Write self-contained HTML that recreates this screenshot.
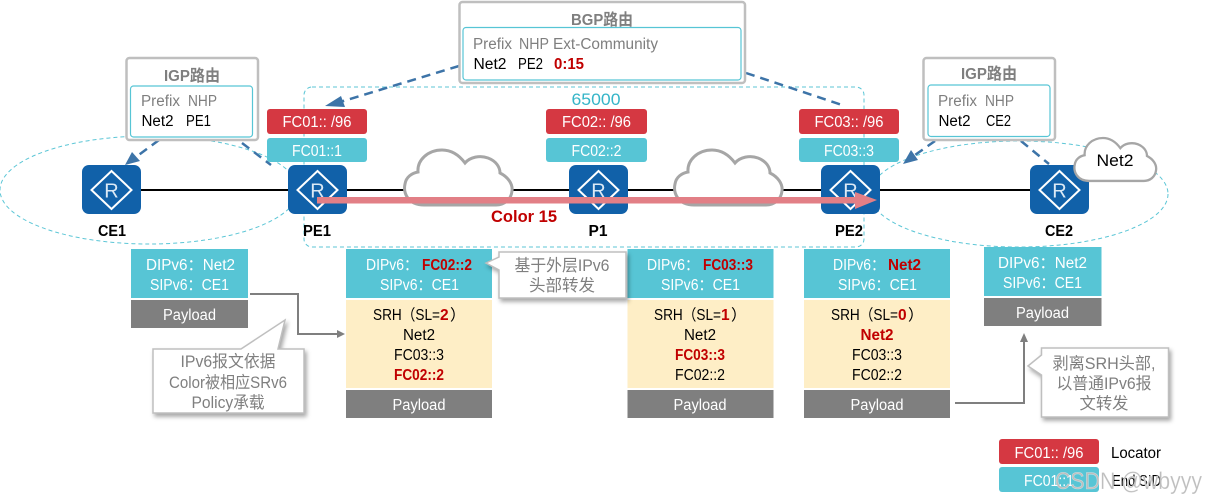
<!DOCTYPE html>
<html><head><meta charset="utf-8">
<style>
html,body{margin:0;padding:0;background:#fff;width:1206px;height:501px;overflow:hidden}
svg{display:block}
text{font-family:"Liberation Sans","Noto Sans CJK SC",sans-serif;font-size:15.5px}
.m{text-anchor:middle}
.w{fill:#fff}
.k{fill:#000}
.g{fill:#7f7f7f}
.r{fill:#c00000;font-weight:bold}
.t{fill:#7f7f7f;font-weight:bold;font-size:16px}
.n{font-weight:bold;fill:#000;font-size:16px}
.box{fill:#fff;stroke:#bfbfbf;stroke-width:2.5}
.inner{fill:#fff;stroke:#57c5d5;stroke-width:1.2}
.dash{stroke:#3d74a8;stroke-width:2.5;stroke-dasharray:9 6;fill:none}
.cy{fill:none;stroke:#5cc6d6;stroke-width:1;stroke-dasharray:4 3}
.teal{fill:#57c5d5}
.red{fill:#d53842}
.gray{fill:#7f7f7f}
.cream{fill:#feeec6}
.cloud{fill:#fff;stroke:#a6a6a6;stroke-width:3}
.call{fill:#fff;stroke:#bfbfbf;stroke-width:1.5;filter:drop-shadow(2px 3px 2px rgba(0,0,0,.35))}
.ct{fill:#7f7f7f;font-size:16.5px}
</style></head><body>
<svg width="1206" height="501" viewBox="0 0 1206 501" xmlns="http://www.w3.org/2000/svg">
<defs>
<g id="rt">
<rect x="-29.5" y="-25" width="59" height="49" rx="7" fill="#1161a9"/>
<path d="M0,-19 L20,0 L0,19 L-20,0 Z" fill="none" stroke="#fff" stroke-width="2"/>
<text x="0" y="7.500" class="m" style="font-size:20px;fill:#dce9f5">R</text>
</g>
<path id="cl" d="M424,205 C408,205 403,193 405,184 C406,177 412,173 418,172 C417,160 428,150 442,150 C451,150 459,155 465,163 C470,157 480,155 488,158 C496,161 500,167 500,173 C508,177 513,184 512,191 C511,200 504,205 496,205 Z"/>
</defs>

<!-- ellipses and AS frame -->
<ellipse class="cy" cx="149" cy="190" rx="149" ry="54"/>
<ellipse class="cy" cx="1019" cy="194" rx="149" ry="53"/>
<rect class="cy" x="304" y="87" width="560" height="160" rx="8"/>
<text x="596" y="105" class="m" style="font-size:17px;fill:#35b5c8" textLength="49" lengthAdjust="spacingAndGlyphs">65000</text>

<!-- link -->
<line x1="112" y1="190" x2="1059" y2="190" stroke="#000" stroke-width="2"/>
<use href="#cl" class="cloud"/>
<use href="#cl" class="cloud" transform="translate(270,0)"/>

<!-- routers -->
<use href="#rt" transform="translate(111.500,190)"/>
<use href="#rt" transform="translate(317.500,190)"/>
<use href="#rt" transform="translate(598.500,190)"/>
<use href="#rt" transform="translate(850.500,190)"/>
<use href="#rt" transform="translate(1059.500,190)"/>

<!-- Net2 cloud -->
<use href="#cl" class="cloud" transform="translate(1074,138) scale(.76,.78) translate(-404,-150)"/>
<text x="1115" y="166" class="m k" style="font-size:17px" textLength="37" lengthAdjust="spacingAndGlyphs">Net2</text>

<!-- pink arrow -->
<rect x="317" y="197" width="540" height="6.500" fill="#e27f86"/>
<path d="M855,192 L877,200 L855,209 Z" fill="#e27f86"/>
<text x="524" y="222" class="m" style="font-size:17px;font-weight:bold;fill:#c00000" textLength="66" lengthAdjust="spacingAndGlyphs">Color 15</text>

<text x="112" y="236" class="m n" textLength="28" lengthAdjust="spacingAndGlyphs">CE1</text>
<text x="317" y="236" class="m n" textLength="28" lengthAdjust="spacingAndGlyphs">PE1</text>
<text x="598" y="236" class="m n" textLength="19" lengthAdjust="spacingAndGlyphs">P1</text>
<text x="849" y="236" class="m n" textLength="28" lengthAdjust="spacingAndGlyphs">PE2</text>
<text x="1059" y="236" class="m n" textLength="28" lengthAdjust="spacingAndGlyphs">CE2</text>

<!-- dashed arrows -->
<line class="dash" x1="459" y1="66" x2="340" y2="102"/>
<path d="M325,106 L341,96 L345,107 Z" fill="#3d74a8"/>
<line class="dash" x1="746" y1="73" x2="845" y2="106"/>
<line class="dash" x1="159" y1="140" x2="136" y2="157"/>
<path d="M125,165 L132,152 L140,161 Z" fill="#3d74a8"/>
<line class="dash" x1="242" y1="143" x2="271" y2="165"/>
<line class="dash" x1="935" y1="141" x2="915" y2="155"/>
<path d="M903,164 L911,150 L918,160 Z" fill="#3d74a8"/>
<line class="dash" x1="1021" y1="141" x2="1049" y2="164"/>

<!-- BGP box -->
<rect class="box" x="459.500" y="2" width="285.500" height="81" rx="3"/>
<rect class="inner" x="463" y="27.500" width="278" height="52.500" rx="3"/>
<text x="602" y="25" class="m t" textLength="62" lengthAdjust="spacingAndGlyphs">BGP路由</text>
<text x="473" y="49" class="g" textLength="39" lengthAdjust="spacingAndGlyphs">Prefix</text>
<text x="519" y="49" class="g" textLength="30" lengthAdjust="spacingAndGlyphs">NHP</text>
<text x="553" y="49" class="g" textLength="105" lengthAdjust="spacingAndGlyphs">Ext-Community</text>
<text x="473.500" y="69" class="k" textLength="33" lengthAdjust="spacingAndGlyphs">Net2</text>
<text x="518" y="69" class="k" textLength="25" lengthAdjust="spacingAndGlyphs">PE2</text>
<text x="554" y="69" class="r" textLength="30" lengthAdjust="spacingAndGlyphs">0:15</text>

<!-- IGP left -->
<rect class="box" x="126.500" y="58" width="131.500" height="82" rx="3"/>
<rect class="inner" x="130.500" y="86" width="122" height="51" rx="3"/>
<text x="192" y="81" class="m t" textLength="56" lengthAdjust="spacingAndGlyphs">IGP路由</text>
<text x="141" y="106" class="g" textLength="39" lengthAdjust="spacingAndGlyphs">Prefix</text>
<text x="188" y="106" class="g" textLength="29" lengthAdjust="spacingAndGlyphs">NHP</text>
<text x="141.500" y="126" class="k" textLength="32" lengthAdjust="spacingAndGlyphs">Net2</text>
<text x="186" y="126" class="k" textLength="25" lengthAdjust="spacingAndGlyphs">PE1</text>

<!-- IGP right -->
<rect class="box" x="923.500" y="58" width="131.500" height="82" rx="3"/>
<rect class="inner" x="928" y="85" width="122" height="51.500" rx="3"/>
<text x="989" y="79" class="m t" textLength="56" lengthAdjust="spacingAndGlyphs">IGP路由</text>
<text x="938" y="106" class="g" textLength="39" lengthAdjust="spacingAndGlyphs">Prefix</text>
<text x="985" y="106" class="g" textLength="29" lengthAdjust="spacingAndGlyphs">NHP</text>
<text x="938.500" y="126" class="k" textLength="32" lengthAdjust="spacingAndGlyphs">Net2</text>
<text x="986" y="126" class="k" textLength="25" lengthAdjust="spacingAndGlyphs">CE2</text>

<!-- locator tags -->
<rect class="red" x="267" y="109" width="100" height="25" rx="3"/>
<rect class="teal" x="267" y="138" width="100" height="24" rx="3"/>
<text x="317" y="127" class="m w" textLength="69" lengthAdjust="spacingAndGlyphs">FC01:: /96</text>
<text x="317" y="156" class="m w" textLength="50" lengthAdjust="spacingAndGlyphs">FC01::1</text>

<rect class="red" x="546" y="109" width="101" height="25" rx="3"/>
<rect class="teal" x="546" y="138" width="101" height="24" rx="3"/>
<text x="596.500" y="127" class="m w" textLength="69" lengthAdjust="spacingAndGlyphs">FC02:: /96</text>
<text x="596.500" y="156" class="m w" textLength="50" lengthAdjust="spacingAndGlyphs">FC02::2</text>

<rect class="red" x="799" y="109" width="100" height="25" rx="3"/>
<rect class="teal" x="799" y="138" width="100" height="24" rx="3"/>
<text x="849" y="127" class="m w" textLength="69" lengthAdjust="spacingAndGlyphs">FC03:: /96</text>
<text x="849" y="156" class="m w" textLength="50" lengthAdjust="spacingAndGlyphs">FC03::3</text>

<!-- CE1 packet -->
<rect class="teal" x="131" y="249" width="117" height="49"/>
<rect class="gray" x="131" y="300" width="117" height="28"/>
<text x="146" y="270" class="w" textLength="89" lengthAdjust="spacingAndGlyphs">DIPv6：Net2</text>
<text x="150" y="290" class="w" textLength="79" lengthAdjust="spacingAndGlyphs">SIPv6：CE1</text>
<text x="189.500" y="320" class="m w" textLength="53" lengthAdjust="spacingAndGlyphs">Payload</text>

<!-- PE1 packet -->
<rect class="teal" x="346" y="249" width="146" height="49"/>
<rect class="cream" x="346" y="300" width="146" height="88"/>
<rect class="gray" x="346" y="390" width="146" height="28"/>
<text x="366" y="270" class="w" textLength="52" lengthAdjust="spacingAndGlyphs">DIPv6：</text>
<text x="422" y="270" class="r" textLength="50" lengthAdjust="spacingAndGlyphs">FC02::2</text>
<text x="380" y="290" class="w" textLength="79" lengthAdjust="spacingAndGlyphs">SIPv6：CE1</text>
<text x="373" y="320" class="k" textLength="67" lengthAdjust="spacingAndGlyphs">SRH（SL=</text>
<text x="440" y="320" class="r">2</text>
<text x="450" y="320" class="k">）</text>
<text x="419" y="340" class="m k" textLength="32" lengthAdjust="spacingAndGlyphs">Net2</text>
<text x="419" y="360" class="m k" textLength="50" lengthAdjust="spacingAndGlyphs">FC03::3</text>
<text x="419" y="380" class="m r" textLength="50" lengthAdjust="spacingAndGlyphs">FC02::2</text>
<text x="419" y="410" class="m w" textLength="53" lengthAdjust="spacingAndGlyphs">Payload</text>

<!-- P1 packet -->
<rect class="teal" x="627.500" y="249" width="146" height="49"/>
<rect class="cream" x="627.500" y="300" width="146" height="88"/>
<rect class="gray" x="627.500" y="390" width="146" height="28"/>
<text x="647" y="270" class="w" textLength="52" lengthAdjust="spacingAndGlyphs">DIPv6：</text>
<text x="703" y="270" class="r" textLength="50" lengthAdjust="spacingAndGlyphs">FC03::3</text>
<text x="661" y="290" class="w" textLength="79" lengthAdjust="spacingAndGlyphs">SIPv6：CE1</text>
<text x="654" y="320" class="k" textLength="67" lengthAdjust="spacingAndGlyphs">SRH（SL=</text>
<text x="721" y="320" class="r">1</text>
<text x="731" y="320" class="k">）</text>
<text x="700" y="340" class="m k" textLength="32" lengthAdjust="spacingAndGlyphs">Net2</text>
<text x="700" y="360" class="m r" textLength="50" lengthAdjust="spacingAndGlyphs">FC03::3</text>
<text x="700" y="380" class="m k" textLength="50" lengthAdjust="spacingAndGlyphs">FC02::2</text>
<text x="700" y="410" class="m w" textLength="53" lengthAdjust="spacingAndGlyphs">Payload</text>

<!-- PE2 packet -->
<rect class="teal" x="804" y="249" width="146" height="49"/>
<rect class="cream" x="804" y="300" width="146" height="88"/>
<rect class="gray" x="804" y="390" width="146" height="28"/>
<text x="833" y="270" class="w" textLength="52" lengthAdjust="spacingAndGlyphs">DIPv6：</text>
<text x="888" y="270" class="r" textLength="33" lengthAdjust="spacingAndGlyphs">Net2</text>
<text x="838" y="290" class="w" textLength="79" lengthAdjust="spacingAndGlyphs">SIPv6：CE1</text>
<text x="831" y="320" class="k" textLength="67" lengthAdjust="spacingAndGlyphs">SRH（SL=</text>
<text x="898" y="320" class="r">0</text>
<text x="908" y="320" class="k">）</text>
<text x="877" y="340" class="m r" textLength="33" lengthAdjust="spacingAndGlyphs">Net2</text>
<text x="877" y="360" class="m k" textLength="50" lengthAdjust="spacingAndGlyphs">FC03::3</text>
<text x="877" y="380" class="m k" textLength="50" lengthAdjust="spacingAndGlyphs">FC02::2</text>
<text x="877" y="410" class="m w" textLength="53" lengthAdjust="spacingAndGlyphs">Payload</text>

<!-- CE2 packet -->
<rect class="teal" x="984" y="247" width="117.500" height="49"/>
<rect class="gray" x="984" y="298" width="117.500" height="28"/>
<text x="998" y="268" class="w" textLength="89" lengthAdjust="spacingAndGlyphs">DIPv6：Net2</text>
<text x="1003" y="288" class="w" textLength="79" lengthAdjust="spacingAndGlyphs">SIPv6：CE1</text>
<text x="1042.500" y="318" class="m w" textLength="53" lengthAdjust="spacingAndGlyphs">Payload</text>

<!-- connectors -->
<path d="M250,294 H298 V334 H340" fill="none" stroke="#7f7f7f" stroke-width="2"/>
<path d="M345,334 L337,330 L337,338 Z" fill="#7f7f7f"/>
<path d="M955,403 H1024 V338" fill="none" stroke="#7f7f7f" stroke-width="2"/>
<path d="M1024,333 L1020,342 L1028,342 Z" fill="#7f7f7f"/>

<!-- callouts -->
<path class="call" d="M499,252 H626 V298 H499 V270 L486,263 L499,257 Z"/>
<text x="562" y="271" class="m ct" textLength="95" lengthAdjust="spacingAndGlyphs">基于外层IPv6</text>
<text x="562" y="291" class="m ct" textLength="66" lengthAdjust="spacingAndGlyphs">头部转发</text>

<path class="call" d="M153,349 H241 L285,320 L278,349 H304 V413 H153 Z"/>
<text x="228" y="367" class="m ct" textLength="95" lengthAdjust="spacingAndGlyphs">IPv6报文依据</text>
<text x="228" y="388" class="m ct" textLength="118" lengthAdjust="spacingAndGlyphs">Color被相应SRv6</text>
<text x="228" y="408" class="m ct" textLength="73" lengthAdjust="spacingAndGlyphs">Policy承载</text>

<path class="call" d="M1041.500,348 H1168.500 V417 H1041.500 V375 L1028,366 L1041.500,355 Z"/>
<text x="1104" y="369" class="m ct" textLength="103" lengthAdjust="spacingAndGlyphs">剥离SRH头部,</text>
<text x="1104" y="389" class="m ct" textLength="95" lengthAdjust="spacingAndGlyphs">以普通IPv6报</text>
<text x="1104" y="409" class="m ct" textLength="49" lengthAdjust="spacingAndGlyphs">文转发</text>

<!-- legend -->
<rect class="red" x="999" y="439" width="100" height="25" rx="3"/>
<rect class="teal" x="999" y="467" width="100" height="25" rx="3"/>
<text x="1049" y="458" class="m w" textLength="69" lengthAdjust="spacingAndGlyphs">FC01:: /96</text>
<text x="1049" y="486" class="m w" textLength="50" lengthAdjust="spacingAndGlyphs">FC01::1</text>
<text x="1111" y="458" class="k" textLength="50" lengthAdjust="spacingAndGlyphs">Locator</text>
<text x="1112" y="486" class="k" textLength="49" lengthAdjust="spacingAndGlyphs">End SID</text>
<text x="1055" y="489" style="font-size:24px;fill:#bdbdbd;stroke:#fff;stroke-opacity:.45;stroke-width:.6px" textLength="147" lengthAdjust="spacingAndGlyphs">CSDN @wbyyy</text>
</svg>
</body></html>
